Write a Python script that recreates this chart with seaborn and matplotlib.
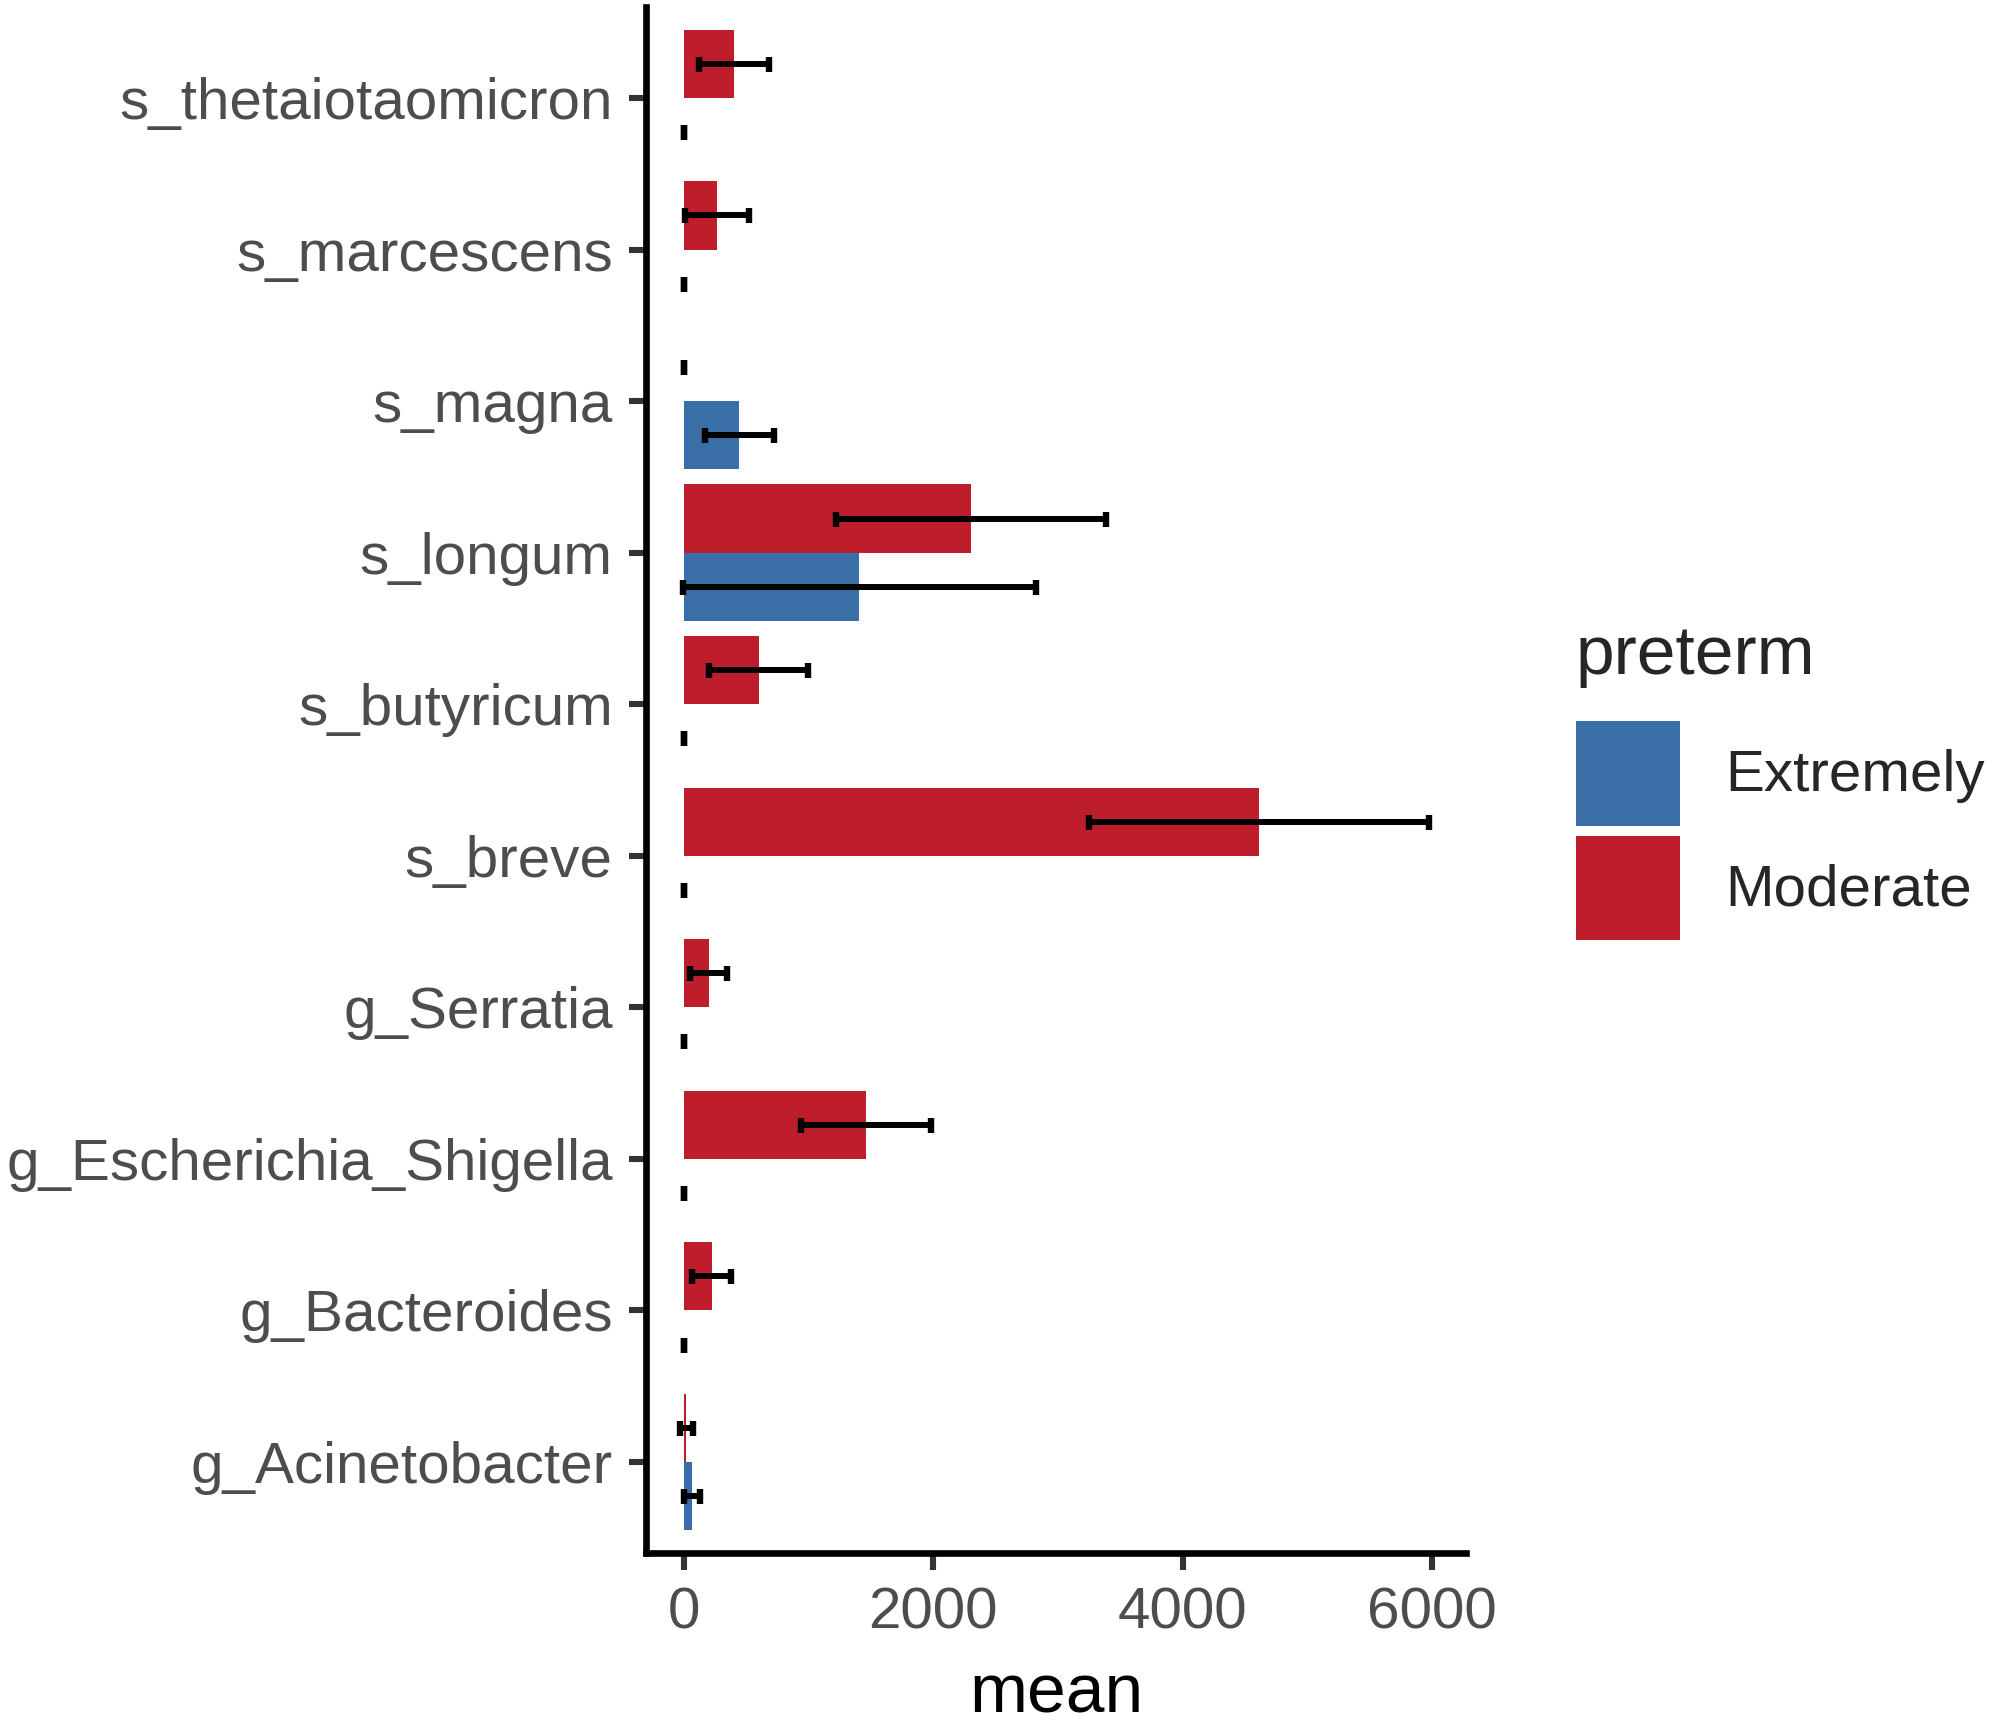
import matplotlib
matplotlib.use("Agg")
import matplotlib.pyplot as plt
from matplotlib.patches import Patch
import seaborn as sns
import pandas as pd

# taxa, top to bottom as in the figure
taxa = ['s_thetaiotaomicron', 's_marcescens', 's_magna', 's_longum', 's_butyricum',
        's_breve', 'g_Serratia', 'g_Escherichia_Shigella', 'g_Bacteroides', 'g_Acinetobacter']
groups = ['Moderate', 'Extremely']

moderate_mean = [401, 263, 0, 2304, 599, 4613, 198, 1461, 221, 20]
moderate_se = [281, 255, 0, 1081, 396, 1360, 148, 523, 158, 50]
extremely_mean = [0, 0, 442, 1406, 0, 0, 0, 0, 0, 65]
extremely_se = [0, 0, 277, 1414, 0, 0, 0, 0, 0, 65]

x_ticks = [0, 2000, 4000, 6000]

red = '#BE1D2C'
blue = '#3A6EA6'

rows = []
for i, t in enumerate(taxa):
    rows.append((t, 'Moderate', moderate_mean[i], moderate_se[i]))
    rows.append((t, 'Extremely', extremely_mean[i], extremely_se[i]))
df = pd.DataFrame(rows, columns=['taxon', 'preterm', 'mean', 'se'])

sns.set_style('ticks')
plt.rcParams['font.family'] = ['Liberation Sans', 'DejaVu Sans']

fig = plt.figure(figsize=(19.95, 17.23), dpi=100)
ax = fig.add_axes([0.3238, 0.0987, 0.7348 - 0.3238, 0.9959 - 0.0987])

sns.barplot(data=df, x='mean', y='taxon', hue='preterm', hue_order=groups,
            palette={'Moderate': red, 'Extremely': blue}, order=taxa,
            orient='h', width=0.9, errorbar=None, saturation=1,
            linewidth=0, legend=False, ax=ax)

# error bars at the centre of each dodged bar
bars = sorted(ax.patches, key=lambda p: p.get_y() + p.get_height() / 2)
yc = [p.get_y() + p.get_height() / 2 for p in bars]
ax.errorbar(df['mean'], yc, xerr=df['se'], fmt='none', ecolor='black',
            elinewidth=4.3, capsize=5.4, capthick=4.6, zorder=3)

ax.set_xlim(-305, 6273)
ax.set_ylim(9.6, -0.6)
ax.set_xticks(x_ticks)
ax.set_xticklabels([str(v) for v in x_ticks])

sns.despine(ax=ax)
for s in ['left', 'bottom']:
    ax.spines[s].set_linewidth(4.8)
    ax.spines[s].set_color('black')
ax.tick_params(axis='both', length=12, width=4.4, color='#333333',
               labelsize=42, labelcolor='#4D4D4D')
ax.tick_params(axis='y', pad=12)
ax.tick_params(axis='x', pad=12)

ax.set_ylabel('')
ax.set_xlabel('mean', fontsize=50, color='black', labelpad=16)

handles = [Patch(facecolor=blue, edgecolor='none', label='Extremely'),
           Patch(facecolor=red, edgecolor='none', label='Moderate')]
leg = fig.legend(handles=handles, title='preterm', loc='upper left',
                 bbox_to_anchor=(0.790, 0.638), frameon=False, fontsize=42,
                 title_fontsize=50, handlelength=1.79, handleheight=2.38,
                 labelspacing=0.17, handletextpad=0.76, borderpad=0,
                 borderaxespad=0, alignment='left')
leg._legend_box.sep = 24

fig.savefig('out.png', dpi=100)
